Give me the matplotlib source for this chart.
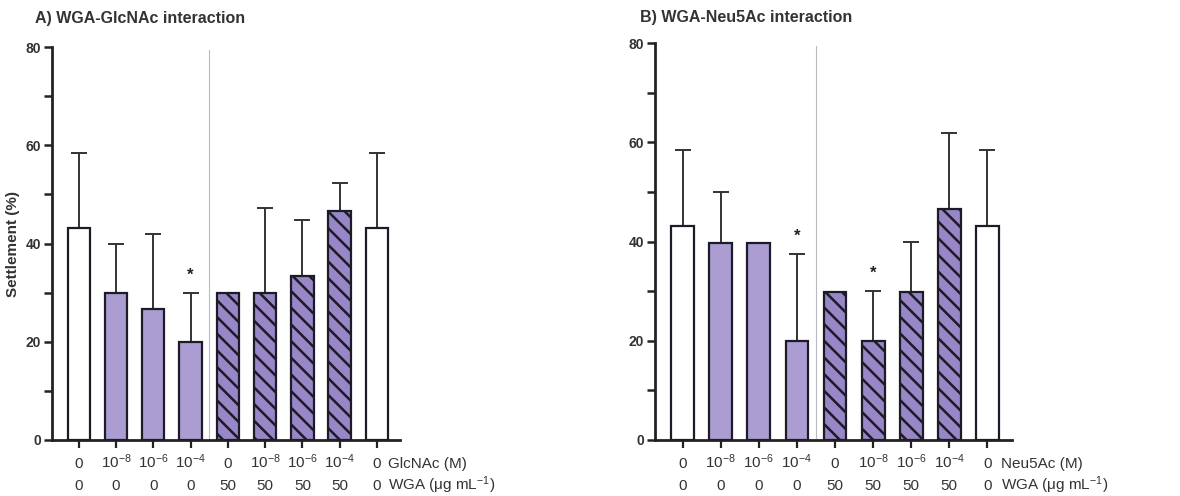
import numpy as np
import matplotlib.pyplot as plt
from matplotlib.transforms import offset_copy

plt.rcParams['font.family'] = ['Liberation Sans', 'DejaVu Sans']
plt.rcParams['hatch.linewidth'] = 1.8
plt.rcParams['mathtext.fontset'] = 'custom'
plt.rcParams['mathtext.rm'] = 'Liberation Sans'
plt.rcParams['mathtext.it'] = 'Liberation Sans'

# datos
conc_labels = ['0', r'10$^{-8}$', r'10$^{-6}$', r'10$^{-4}$', '0', r'10$^{-8}$', r'10$^{-6}$', r'10$^{-4}$', '0']
wga_labels = ['0', '0', '0', '0', '50', '50', '50', '50', '0']

glcnac_mean = [43.2, 29.9, 26.6, 19.9, 29.9, 29.9, 33.3, 46.6, 43.2]
glcnac_top = [58.5, 39.9, 41.9, 30.0, None, 47.3, 44.8, 52.4, 58.5]
glcnac_star = [3]

neu5ac_mean = [43.2, 39.8, 39.8, 19.9, 29.9, 19.9, 29.9, 46.5, 43.2]
neu5ac_top = [58.4, 49.9, None, 37.4, None, 30.0, 39.9, 61.8, 58.4]
neu5ac_star = [3, 5]

# tipo de barra: 0 blanca, 1 lila, 2 lila rayada
bar_type = [0, 1, 1, 1, 2, 2, 2, 2, 0]

fill_col = {0: 'white', 1: '#ab9dd1', 2: '#9886c6'}
edge = '#1c1c28'

fig = plt.figure(figsize=(11.8, 4.96), dpi=100)
axA = fig.add_axes([0.044, 0.113, 0.295, 0.792])
axB = fig.add_axes([0.555, 0.113, 0.303, 0.800])


def panel(ax, means, tops, stars, sugar, xlim, xlab):
    x = np.arange(len(means))
    for i in x:
        t = bar_type[i]
        ax.bar(x[i], means[i], width=0.6, color=fill_col[t], edgecolor=edge,
               linewidth=1.6, hatch='\\\\' if t == 2 else None, zorder=3)
    idx = [i for i in x if tops[i] is not None]
    low = np.zeros(len(idx))
    up = np.array([tops[i] - means[i] for i in idx])
    ax.errorbar(x[idx], np.array(means)[idx], yerr=[low, up], fmt='none',
                ecolor='#333333', elinewidth=1.4, capsize=5.5, capthick=1.4, zorder=2)
    for i in stars:
        ax.text(x[i], tops[i] + 3.6, '*', ha='center', va='center',
                fontsize=12, fontweight='bold', color='#222222')
    ax.plot([3.5, 3.5], [0, 79.5], color='#bbbbbb', lw=0.8, zorder=1)

    ax.set_xlim(*xlim)
    ax.set_ylim(0, 80)
    ax.spines['top'].set_visible(False)
    ax.spines['right'].set_visible(False)
    ax.spines['left'].set_linewidth(2)
    ax.spines['bottom'].set_linewidth(2)
    ax.spines['left'].set_color('#222222')
    ax.spines['bottom'].set_color('#222222')
    ax.set_yticks([0, 20, 40, 60, 80])
    ax.set_yticks([10, 30, 50, 70], minor=True)
    ax.tick_params(axis='y', which='both', length=6, width=1.8, color='#222222',
                   labelsize=10, pad=2)
    for lb in ax.get_yticklabels():
        lb.set_fontweight('bold')
        lb.set_color('#333333')
    ax.set_xticks(x)
    ax.set_xticklabels([])
    ax.tick_params(axis='x', length=6, width=1.6, color='#222222')

    # dos filas de etiquetas bajo el eje (desplazadas en pixeles)
    base = ax.get_xaxis_transform()
    row1 = offset_copy(base, fig=fig, y=-28, units='dots')
    row2 = offset_copy(base, fig=fig, y=-50, units='dots')
    for i in x:
        ax.text(x[i], 0, conc_labels[i], transform=row1, ha='center', va='baseline',
                fontsize=11, color='#333333')
        ax.text(x[i], 0, wga_labels[i], transform=row2, ha='center', va='baseline',
                fontsize=11, color='#333333')
    ax.text(xlab, 0, sugar + ' (M)', transform=row1, ha='left', va='baseline',
            fontsize=11, color='#333333')
    ax.text(xlab, 0, r'WGA (μg mL$^{-1}$)', transform=row2, ha='left', va='baseline',
            fontsize=11, color='#333333')


panel(axA, glcnac_mean, glcnac_top, glcnac_star, 'GlcNAc', (-0.72, 8.62), 8.3)
panel(axB, neu5ac_mean, neu5ac_top, neu5ac_star, 'Neu5Ac', (-0.73, 8.66), 8.35)

axA.set_ylabel('Settlement (%)', fontsize=11, fontweight='bold', color='#333333', labelpad=4)

fig.text(0.030, 0.962, 'A) WGA-GlcNAc interaction', fontsize=11.5, fontweight='bold',
         color='#333333', va='center')
fig.text(0.542, 0.965, 'B) WGA-Neu5Ac interaction', fontsize=11.5, fontweight='bold',
         color='#333333', va='center')

fig.savefig('out.png', dpi=100, facecolor='white')
